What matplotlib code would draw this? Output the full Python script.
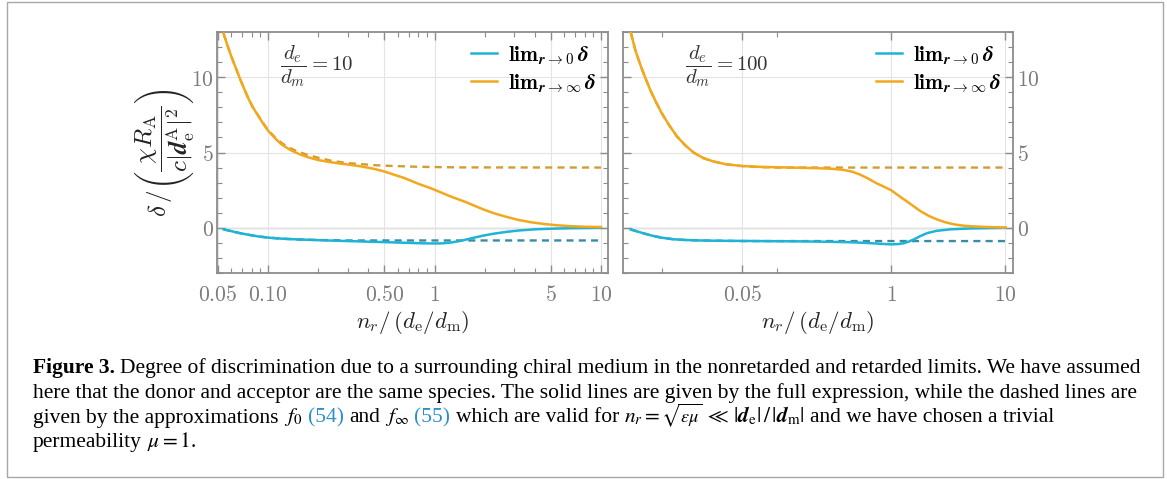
import matplotlib
matplotlib.use('Agg')
import matplotlib.pyplot as plt
from matplotlib.patches import Rectangle
from matplotlib.ticker import FixedLocator, FixedFormatter, NullFormatter

plt.rcParams['mathtext.fontset'] = 'cm'
plt.rcParams['font.family'] = 'DejaVu Serif'

W, H = 1167, 479

# ---- data (x = n_r / (d_e/d_m), y = delta / (...)) ----
# d_e/d_m = 10, retarded limit (orange)
x10_inf = [0.054, 0.057, 0.06, 0.064, 0.068, 0.072, 0.076, 0.081, 0.087, 0.093, 0.1, 0.11, 0.12,
           0.13, 0.14, 0.155, 0.17, 0.185, 0.2, 0.23, 0.27, 0.318, 0.37, 0.43, 0.5, 0.58, 0.65,
           0.72, 0.8, 0.9, 1.0, 1.12, 1.25, 1.4, 1.55, 1.75, 2.0, 2.3, 2.7, 3.2, 3.8, 4.5, 5.3,
           6.5, 8.0, 10.0]
y10_inf = [12.9, 12.1, 11.4, 10.6, 9.85, 9.2, 8.6, 8.0, 7.45, 6.95, 6.45, 5.95, 5.55,
           5.3, 5.1, 4.88, 4.72, 4.6, 4.5, 4.38, 4.27, 4.17, 4.06, 3.92, 3.74, 3.5, 3.33,
           3.13, 2.92, 2.72, 2.53, 2.3, 2.08, 1.88, 1.7, 1.45, 1.19, 0.95, 0.73, 0.52, 0.37, 0.26, 0.18,
           0.11, 0.07, 0.05]
x10_inf_apx = [0.054, 0.057, 0.06, 0.064, 0.068, 0.072, 0.076, 0.081, 0.087, 0.093, 0.1, 0.11,
               0.121, 0.135, 0.15, 0.174, 0.2, 0.24, 0.3, 0.35, 0.45, 0.55, 0.8, 1.4, 10.0]
y10_inf_apx = [12.9, 12.1, 11.4, 10.6, 9.85, 9.2, 8.6, 8.0, 7.47, 6.98, 6.48, 6.0,
               5.62, 5.3, 5.07, 4.83, 4.65, 4.45, 4.3, 4.24, 4.15, 4.11, 4.05, 4.01, 4.0]
# d_e/d_m = 10, nonretarded limit (blue)
x10_0 = [0.054, 0.06, 0.068, 0.076, 0.087, 0.1, 0.12, 0.15, 0.2, 0.3, 0.5, 0.7, 0.85, 1.0, 1.12,
         1.25, 1.4, 1.55, 1.75, 2.0, 2.3, 2.7, 3.2, 4.0, 5.0, 7.0, 10.0]
y10_0 = [-0.1, -0.22, -0.36, -0.46, -0.57, -0.65, -0.72, -0.77, -0.82, -0.88, -0.95, -1.0, -1.03,
         -1.04, -1.03, -0.98, -0.89, -0.78, -0.64, -0.5, -0.38, -0.27, -0.18, -0.1, -0.06, -0.02, 0.0]
x10_0_apx = [0.054, 0.06, 0.068, 0.076, 0.087, 0.1, 0.12, 0.15, 0.2, 0.3, 10.0]
y10_0_apx = [-0.1, -0.22, -0.36, -0.46, -0.57, -0.65, -0.72, -0.77, -0.81, -0.84, -0.84]

# d_e/d_m = 100, retarded limit (orange)
x100_inf = [0.0053, 0.0058, 0.0064, 0.0071, 0.0079, 0.0088, 0.0099, 0.0115, 0.0135, 0.016, 0.0189,
            0.023, 0.0281, 0.036, 0.05, 0.07, 0.1, 0.15, 0.224, 0.3, 0.38, 0.46, 0.54, 0.63, 0.74,
            0.86, 1.0, 1.17, 1.37, 1.58, 1.81, 2.15, 2.53, 3.0, 3.55, 4.2, 5.0, 7.0, 10.0]
y100_inf = [12.97, 11.8, 10.85, 9.95, 9.1, 8.35, 7.6, 6.8, 6.04, 5.45, 4.98,
            4.62, 4.4, 4.22, 4.1, 4.05, 4.02, 3.99, 3.96, 3.92, 3.85, 3.72, 3.52, 3.27, 2.97,
            2.74, 2.5, 2.12, 1.76, 1.42, 1.1, 0.78, 0.55, 0.36, 0.23, 0.15, 0.1, 0.05, 0.02]
x100_inf_apx = [0.0053, 0.0058, 0.0064, 0.0071, 0.0079, 0.0088, 0.0099, 0.0115, 0.0135, 0.016,
                0.0189, 0.023, 0.0281, 0.036, 0.05, 0.07, 0.1, 10.0]
y100_inf_apx = [12.97, 11.8, 10.85, 9.95, 9.1, 8.35, 7.6, 6.8, 6.04, 5.45,
                4.98, 4.62, 4.4, 4.22, 4.1, 4.03, 4.0, 4.0]
# d_e/d_m = 100, nonretarded limit (blue)
x100_0 = [0.0053, 0.0064, 0.0079, 0.0099, 0.0125, 0.016, 0.0215, 0.03, 0.05, 0.1, 0.16, 0.3, 0.44,
          0.6, 0.8, 1.0, 1.15, 1.28, 1.42, 1.58, 1.8, 2.07, 2.5, 3.3, 5.0, 10.0]
y100_0 = [-0.11, -0.3, -0.5, -0.66, -0.76, -0.81, -0.84, -0.86, -0.87, -0.89, -0.9, -0.93, -0.96,
          -1.0, -1.06, -1.1, -1.08, -1.03, -0.92, -0.77, -0.55, -0.35, -0.2, -0.1, -0.04, 0.0]
x100_0_apx = [0.0053, 0.0064, 0.0079, 0.0099, 0.0125, 0.016, 0.0215, 0.05, 10.0]
y100_0_apx = [-0.11, -0.3, -0.5, -0.66, -0.76, -0.81, -0.84, -0.88, -0.88]

BLUE = '#1fb4d6'
ORANGE = '#f2a81d'
BLUE_D = '#3a8ca6'
ORANGE_D = '#d49b33'
GRID = '#e4e4e4'
FRAME = '#8c8c8c'
TICKTXT = '#7c7c7c'

fig = plt.figure(figsize=(W / 100, H / 100), dpi=100)


def px_axes(x0, y0, x1, y1):
    return fig.add_axes([x0 / W, 1 - y1 / H, (x1 - x0) / W, (y1 - y0) / H])


def style(ax, xlim, major, labels, minor, side):
    ax.set_xscale('log')
    ax.set_xlim(xlim)
    ax.set_ylim(-3, 13)
    ax.xaxis.set_major_locator(FixedLocator(major))
    ax.xaxis.set_major_formatter(FixedFormatter(['$%s$' % l for l in labels]))
    ax.xaxis.set_minor_locator(FixedLocator(minor))
    ax.xaxis.set_minor_formatter(NullFormatter())
    ax.yaxis.set_major_locator(FixedLocator([0, 5, 10]))
    ax.yaxis.set_major_formatter(FixedFormatter(['$0$', '$5$', '$10$']))
    ax.yaxis.set_minor_locator(FixedLocator(range(-3, 14)))
    ax.tick_params(which='both', direction='in', top=True, right=True,
                   color=FRAME, labelcolor=TICKTXT, labelsize=15.5)
    ax.tick_params(which='major', length=6, width=1)
    ax.tick_params(which='minor', length=3.5, width=0.8)
    ax.tick_params(axis='x', pad=8)
    if side == 'right':
        ax.tick_params(axis='y', labelleft=False, labelright=True, pad=3)
    else:
        ax.tick_params(axis='y', pad=2.5)
    for s in ax.spines.values():
        s.set_color(FRAME)
        s.set_linewidth(1.3)
    ax.grid(True, which='major', color=GRID, lw=0.8)
    ax.axhline(0, color='#b8b8b8', lw=1, zorder=1)
    ax.set_xlabel(r'$n_r/\,(d_\mathrm{e}/d_\mathrm{m})$', fontsize=16.5, color='#222222', va='center')
    ax.xaxis.set_label_coords(0.5, -0.207)


def draw(ax, xi, yi, xia, yia, x0, y0, x0a, y0a, ratio):
    ax.plot(xia, yia, color=ORANGE_D, lw=1.7, dashes=(3, 2.2), zorder=2)
    ax.plot(x0a, y0a, color=BLUE_D, lw=1.7, dashes=(3, 2.2), zorder=2)
    ax.plot(x0, y0, color=BLUE, lw=1.8, zorder=3,
            label=r'$\mathbf{lim}_{\mathbfit{r}\mathbf{\rightarrow 0}}\,\mathbfit{\delta}$')
    ax.plot(xi, yi, color=ORANGE, lw=1.8, zorder=3,
            label=r'$\mathbf{lim}_{\mathbfit{r}\mathbf{\rightarrow \infty}}\,\mathbfit{\delta}$')
    ax.legend(loc='upper right', frameon=False, fontsize=15.5, handlelength=1.2,
              handletextpad=0.5, borderaxespad=0.15, labelspacing=0.25)
    ax.text(0.16, 0.86, r'$\dfrac{d_e}{d_m}=%d$' % ratio, transform=ax.transAxes,
            fontsize=15, color='#333333', va='center', ha='left')


ax1 = px_axes(217, 32, 608, 273)
style(ax1, (0.0493, 11.03), [0.05, 0.1, 0.5, 1, 5, 10], ['0.05', '0.10', '0.50', '1', '5', '10'],
      [0.06, 0.07, 0.08, 0.09, 0.2, 0.3, 0.4, 0.6, 0.7, 0.8, 0.9, 2, 3, 4, 6, 7, 8, 9], 'left')
draw(ax1, x10_inf, y10_inf, x10_inf_apx, y10_inf_apx, x10_0, y10_0, x10_0_apx, y10_0_apx, 10)
ax1.set_ylabel(r'$\delta\,/\left(\dfrac{\chi R_\mathrm{A}}{c|\mathbfit{d}_\mathrm{e}^\mathrm{A}|^2}\right)$',
               fontsize=18, color='#222222', va='center')
ax1.yaxis.set_label_coords(-0.135, 0.5)

ax2 = px_axes(623, 32, 1013, 273)
style(ax2, (0.00453, 11.63), [0.05, 1, 10], ['0.05', '1', '10'], [0.01, 0.1], 'right')
draw(ax2, x100_inf, y100_inf, x100_inf_apx, y100_inf_apx, x100_0, y100_0, x100_0_apx, y100_0_apx, 100)

# outer frame
fig.patches.append(Rectangle((7 / W, 1 - 477 / H), 1156 / W, 475 / H, transform=fig.transFigure,
                             fill=False, ec='#a8a8a8', lw=1))

# ---- caption ----
LINK = '#2a8fca'
K = 'black'
# (text, colour, weight, size factor, space before)
caption = [
    [('Figure 3.', K, 'bold', 1, False),
     ('Degree of discrimination due to a surrounding chiral medium in the nonretarded and retarded limits. We have assumed', K, 'normal', 1, True)],
    [('here that the donor and acceptor are the same species. The solid lines are given by the full expression, while the dashed lines are', K, 'normal', 1, False)],
    [('given by the approximations', K, 'normal', 1, False), (r'$f_0$', K, 'normal', 1, True),
     ('(54)', LINK, 'normal', 1, True), ('and', K, 'normal', 1, True), (r'$f_\infty$', K, 'normal', 1, True),
     ('(55)', LINK, 'normal', 1, True), ('which are valid for', K, 'normal', 1, True),
     (r'$n_r=$', K, 'normal', 1, True), (r'$\sqrt{\varepsilon\mu}$', K, 'normal', 0.85, False),
     (r'$\,\ll\,|\mathbfit{d}_\mathrm{e}|\,/\,|\mathbfit{d}_\mathrm{m}|$', K, 'normal', 1, False),
     ('and we have chosen a trivial', K, 'normal', 1, True)],
    [('permeability', K, 'normal', 1, False), (r'$\mu=1$.', K, 'normal', 1, True)],
]
baselines = [373.5, 398, 422.5, 447]
renderer = fig.canvas.get_renderer()


def put_line(x, base, pieces, size):
    texts = []
    probe = fig.text(0, 0, 'a a', fontsize=size, family='Liberation Serif')
    probe2 = fig.text(0, 0, 'aa', fontsize=size, family='Liberation Serif')
    sp = probe.get_window_extent(renderer).width - probe2.get_window_extent(renderer).width
    probe.remove()
    probe2.remove()
    for s, c, wgt, f, gap in pieces:
        if gap:
            x += sp
        t = fig.text(x / W, 1 - base / H, s, fontsize=size * f, family='Liberation Serif', color=c,
                     weight=wgt, va='baseline', ha='left', math_fontfamily='stix')
        texts.append(t)
        x += t.get_window_extent(renderer).width
    return texts, x


trial, end = put_line(33, baselines[0], caption[0], 14)
for t in trial:
    t.remove()
size = 14 * (1144 - 33) / (end - 33)
for line, base in zip(caption, baselines):
    put_line(33, base, line, size)

fig.savefig('out.png', dpi=100)
